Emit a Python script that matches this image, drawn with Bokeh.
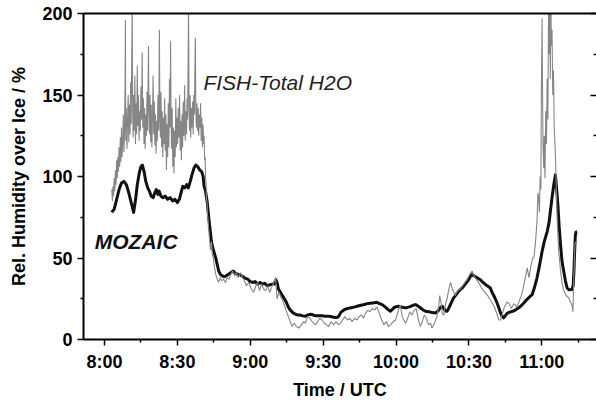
from bokeh.plotting import figure
from bokeh.models import Range1d, LinearAxis, FixedTicker, Label
from bokeh.embed import file_html
from bokeh.resources import INLINE

# ---- data (minutes after 08:00 UTC, relative humidity over ice in %) ----
tick_minutes = [0, 30, 60, 90, 120, 150, 180]
tick_labels = ["8:00", "8:30", "9:00", "9:30", "10:00", "10:30", "11:00"]
minor_minutes = [15, 45, 75, 105, 135, 165, 195]
y_ticks = [0, 50, 100, 150, 200]
y_minor = [25, 75, 125, 175]

fish_t = [3.0, 3.25, 3.5, 3.75, 4.0, 4.25, 4.5, 4.75, 5.0, 5.25, 5.5, 5.75, 6.0, 6.25, 6.5,
          6.75, 7.0, 7.25, 7.5, 7.75, 8.0, 8.25, 8.5, 8.6, 8.75, 9.0, 9.25, 9.5, 9.75, 10.0,
          10.25, 10.5, 10.75, 11.0, 11.2, 11.4, 11.6, 11.8, 12.0, 12.25, 12.5, 12.75, 13.0,
          13.25, 13.5, 13.75, 14.0, 14.25, 14.5, 14.75, 15.0, 15.25, 15.5, 15.75, 16.0, 16.25,
          16.5, 16.75, 17.0, 17.25, 17.5, 17.75, 18.1, 18.3, 18.5, 18.75, 19.0, 19.25, 19.5,
          19.75, 20.0, 20.25, 20.5, 20.75, 21.0, 21.25, 21.5, 21.75, 22.0, 22.3, 22.6, 22.8,
          23.0, 23.25, 23.5, 23.75, 24.0, 24.25, 24.5, 24.75, 25.0, 25.25, 25.5, 25.75, 26.0,
          26.25, 26.5, 26.75, 27.0, 27.2, 27.4, 27.6, 27.85, 28.1, 28.35, 28.6, 28.85, 29.1,
          29.35, 29.6, 29.85, 30.1, 30.35, 30.6, 30.9, 31.15, 31.4, 31.65, 31.9, 32.15, 32.4,
          32.7, 33.0, 33.25, 33.5, 33.75, 34.0, 34.2, 34.4, 34.6, 34.8, 35.0, 35.25, 35.5,
          35.75, 36.0, 36.25, 36.5, 36.75, 37.0, 37.2, 37.4, 37.6, 37.8, 38.05, 38.3, 38.55,
          38.8, 39.05, 39.3, 39.55, 39.8, 40.05, 40.3, 40.55, 40.8, 41.0, 41.2, 41.4, 41.6,
          41.8, 42.0, 42.2, 42.4, 42.6, 42.8, 43.0, 43.3, 43.6,
          44.0, 44.4, 44.8, 45.2, 45.8, 46.4, 47.0, 47.6, 48.2, 49.0, 49.8, 50.5,
          51.2, 52.0, 52.8, 53.5, 54.2, 55.0, 56.0, 56.8, 57.6, 58.4, 59.4, 60.4, 61.4, 62.3,
          63.0, 63.8, 64.6, 65.5, 66.3, 67.2, 68.0, 68.8, 69.6, 70.4, 71.0, 71.8, 72.6, 73.4,
          74.2, 75.2, 76.2, 77.2, 78.0, 79.0, 80.0, 81.0, 82.0, 82.7, 83.6, 84.5, 85.5, 86.8,
          87.8, 88.6, 89.6, 90.5, 91.4, 92.3, 93.3, 94.3, 95.3, 96.3, 97.1, 98.0, 99.0, 100.0,
          101.0, 101.9, 103.0, 104.0, 104.7, 105.8, 106.6, 107.4, 108.4, 109.3, 110.2, 111.2,
          112.0, 112.9, 113.8, 115.0, 116.0, 116.8, 117.7, 118.8, 119.8, 120.6, 121.4, 121.8,
          122.5, 123.2, 123.9, 124.8, 125.6, 126.6, 127.4, 128.3, 129.2, 130.0, 130.8, 131.6,
          132.5, 133.4, 134.2, 134.8, 135.8, 136.8, 137.5, 138.0, 138.6, 139.0, 139.6, 140.4,
          141.0, 141.6, 142.4, 143.2, 144.4, 145.3, 146.5, 147.4, 148.3, 149.3, 150.3, 151.3,
          152.1, 153.0, 154.0, 155.0, 156.0, 157.0, 157.5, 158.5, 159.3, 160.2, 161.2, 162.3,
          163.0, 163.8, 164.6, 165.7, 166.6, 167.5, 168.4, 169.2, 169.8, 170.8, 171.8, 172.8,
          173.5, 174.0, 174.7, 175.5, 176.2, 176.7, 177.3, 178.0, 178.4, 178.7, 179.0, 179.3,
          179.6, 179.8, 180.1, 180.3, 180.5, 180.8, 181.0, 181.3, 181.6, 181.9, 182.2, 182.5,
          182.7, 182.9, 183.1, 183.3, 183.5, 183.7, 183.9, 184.2, 184.5, 184.8, 185.1, 185.4,
          185.6, 185.9, 186.3, 186.9, 187.7, 188.3, 189.0, 190.0, 191.1, 191.8, 192.4, 192.8,
          193.2, 193.6, 194.0]
fish_rhi = [92, 85, 94, 88, 99, 91, 104, 95, 110, 99, 112, 103, 118, 106, 124,
            109, 130, 112, 121, 138, 115, 128, 160, 196, 122, 142, 117, 135, 150, 121,
            144, 126, 158, 132, 170, 205, 140, 124, 150, 128, 162, 120, 145,
            126, 168, 131, 150, 122, 140, 128, 155, 135, 176, 130, 148, 120,
            142, 117, 138, 125, 152, 128, 180, 140, 126, 150, 121, 144, 118,
            136, 162, 126, 146, 119, 138, 114, 134, 122, 150, 128, 190, 135,
            124, 152, 118, 140, 112, 136, 120, 148, 116, 138, 104, 132, 112,
            145, 118, 160, 130, 183, 135, 117, 142, 106, 130, 102, 128, 112,
            148, 118, 136, 120, 142, 124, 150, 116, 134, 110, 138, 118, 146,
            125, 156, 122, 140, 126, 148, 135, 168, 205, 140, 128, 150, 124,
            142, 130, 146, 126, 150, 138, 165, 185, 140, 130, 145, 128, 142,
            125, 138, 130, 145, 122, 136, 118, 132, 120, 125, 110, 112, 100,
            96, 86, 84, 76, 74, 68, 66, 60, 55,
            60, 52, 50, 45, 40, 37, 35, 38, 36, 37, 35, 38,
            37, 40, 42, 39, 41, 38, 41, 38, 36, 33, 35, 31, 29, 33,
            35, 30, 34, 31, 30, 33, 29, 32, 35, 38, 25, 29, 26, 24,
            20, 16, 12, 8, 10, 8, 7, 9, 11, 10, 14, 13, 11, 9,
            11, 13, 12, 10, 9, 8, 11, 9, 11, 9, 10, 12, 14, 12,
            13, 11, 13, 12, 14, 15, 13, 16, 18, 17, 19, 18,
            20, 17, 13, 9, 11, 8, 9, 11, 12, 16, 20, 21,
            14, 12, 10, 13, 17, 15, 18, 19, 12, 8, 11, 15,
            13, 9, 10, 7, 10, 14, 20, 27, 22, 16, 15, 22,
            25, 30, 35, 31, 27, 30, 31, 33, 35, 37, 40, 42,
            39, 37, 35, 32, 30, 28, 27.5, 25, 23, 21, 17, 12,
            12, 16, 20, 23, 22, 19, 22, 21, 20, 24, 28, 35,
            40, 44, 38, 45, 50, 50, 58, 72, 90, 87, 78, 100,
            92, 150, 197, 150, 118, 105, 125, 99, 140, 120, 160, 135,
            190, 215, 175, 205, 160, 215, 180, 190, 150, 165, 130, 120,
            113, 95, 74, 55, 42, 35, 30, 27, 25.5, 23, 21, 17,
            40, 58, 60]

mozaic_t = [3.0, 4.0, 5.0, 6.0, 7.0, 8.0, 9.0, 10.0, 11.0, 12.0, 12.8, 13.5, 14.3, 15.0,
            15.6, 16.3, 17.0, 17.8, 18.5, 19.2, 20.0, 20.7, 21.3, 22.0, 22.5, 23.2, 24.0,
            25.0, 26.0, 27.0, 28.0, 29.0, 30.0, 30.8, 31.5, 32.2, 33.0, 33.8, 34.5, 35.3,
            36.0, 36.8, 37.6, 38.4, 39.2, 40.0, 40.6, 41.0, 41.6, 42.3, 42.9, 43.5, 44.0,
            44.6, 45.2, 45.8, 46.4, 47.0, 47.7, 48.5, 49.3, 50.0, 51.0, 52.0, 53.0, 54.0,
            55.0, 56.0, 57.0, 58.0, 59.0, 60.0, 61.0, 62.0, 63.0, 64.0, 65.0, 66.0, 67.0,
            68.0, 69.0, 70.0, 70.6, 71.0, 71.6, 72.4, 73.2, 74.0, 74.8, 75.6, 76.5, 77.5,
            78.6, 79.6, 80.6, 81.6, 82.7, 83.6, 84.8, 86.0, 87.0, 88.2, 89.5, 90.8, 92.3,
            93.5, 94.6, 95.8, 96.5, 97.2, 98.0, 99.0, 100.0, 101.5, 103.0, 104.0, 105.5,
            107.0, 108.1, 109.5, 111.0, 112.0, 113.2, 114.3, 115.5, 116.6, 117.7, 118.5,
            119.5, 121.1, 122.5, 124.0, 125.5, 127.0, 128.0, 129.0, 130.0, 131.0, 132.1,
            133.5, 135.0, 136.2, 137.3, 138.2, 139.0, 139.6, 140.4, 141.0, 141.8, 142.7,
            143.7, 145.0, 146.0, 147.2, 148.5, 149.8, 150.5, 151.3, 152.2, 153.2, 154.7,
            155.8, 157.0, 158.0, 158.8, 159.5, 160.2, 161.0, 161.6, 162.4, 163.0, 163.6,
            164.3, 165.7, 166.8, 168.0, 169.0, 170.0, 171.0, 172.0, 172.6, 173.5, 174.5,
            176.0, 177.0, 178.0, 179.0, 180.1, 181.0, 182.2, 183.0, 183.5, 184.2, 184.9,
            185.6, 186.1, 186.6, 187.1, 187.7, 188.3, 189.0, 189.7, 190.4, 191.2, 192.4,
            192.9, 193.2, 193.5, 193.8, 194.1, 194.5]
mozaic_rhi = [78, 80, 86, 92, 96, 97, 95, 90, 84, 78, 86, 95, 102, 106,
              107, 103, 97, 93, 91, 88, 87, 90, 92, 89, 91, 88, 87,
              88, 86, 87, 85, 86, 84, 86, 90, 94, 93, 95, 93, 97,
              101, 105, 107, 106, 104, 103, 100, 94, 91, 84, 75, 67, 60,
              56, 53, 50, 46, 42, 40, 39, 38.5, 39, 40, 41, 42, 40.5,
              40, 39.5, 38.5, 37.5, 37, 35.5, 35, 35.5, 34, 35, 34, 34.5, 33,
              33.5, 34, 34, 36.5, 35, 31, 29, 27, 25, 23, 20, 18, 16.5,
              15.5, 15, 15, 14.5, 14.3, 15, 15.5, 15, 14.5, 14.5, 14.5, 14.3, 14.3,
              14, 13.5, 13.5, 14.5, 16.5, 17.5, 18.5, 19, 19.5, 20, 20.4, 21,
              21.5, 22, 22.3, 22.5, 22.8, 22, 21.4, 20, 18.5, 17.3, 18.5,
              20, 20.4, 19.8, 19.4, 20, 21, 21.4, 20.5, 19.5, 18.3, 17.3,
              17, 16.5, 16.3, 17.5, 19.5, 20.4, 19, 17.5, 17.3, 19.5, 22.5,
              25.5, 28, 30, 31.6, 34, 36.5, 38.5, 39.8, 39, 38, 36.7,
              35, 33.5, 32.5, 31.6, 29, 27, 24.5, 22.4, 19, 16.3, 14.3,
              13.3, 16, 16.8, 17.3, 18, 19, 20, 21.5, 22.4, 24, 25.5,
              27.5, 32, 37.7, 45, 54, 60, 66.2, 72, 78.5, 87, 94.8,
              101, 92, 82.6, 70, 58, 48, 41.8, 36, 31.6, 30.5, 30.6,
              33, 41.8, 54, 64, 66, 66]

FONT = "Liberation Sans"

p = figure(width=596, height=402, output_backend="svg", toolbar_location=None,
           x_range=Range1d(-8.64, 202.5), y_range=Range1d(0, 200),
           min_border_left=83, min_border_right=0, min_border_top=13, min_border_bottom=62,
           outline_line_color=None, background_fill_color="white", border_fill_color="white")
p.grid.visible = False

p.line(mozaic_t, mozaic_rhi, line_color="#111111", line_width=3, line_join="round")
p.line(fish_t, fish_rhi, line_color="#868686", line_width=1.1)

# bottom axis
xa = p.xaxis[0]
xa.ticker = FixedTicker(ticks=tick_minutes, minor_ticks=minor_minutes)
xa.major_label_overrides = {m: s for m, s in zip(tick_minutes, tick_labels)}
xa.axis_label = "Time / UTC"
# left axis
ya = p.yaxis[0]
ya.ticker = FixedTicker(ticks=y_ticks, minor_ticks=y_minor)
ya.axis_label = "Rel. Humidity over Ice / %"

for ax in (xa, ya):
    ax.axis_line_width = 2
    ax.axis_line_color = "black"
    ax.major_tick_line_width = 1.5
    ax.minor_tick_line_width = 1.5
    ax.major_tick_out = 6
    ax.major_tick_in = 0
    ax.minor_tick_out = 3
    ax.minor_tick_in = 0
    ax.major_label_text_font = FONT
    ax.major_label_text_font_style = "bold"
    ax.major_label_text_font_size = "18px"
    ax.major_label_text_color = "black"
    ax.axis_label_text_font = FONT
    ax.axis_label_text_font_style = "bold"
    ax.axis_label_text_font_size = "18px"
    ax.axis_label_text_color = "black"
xa.major_label_standoff = 6
xa.axis_label_standoff = 5
ya.major_label_standoff = 5
ya.axis_label_standoff = 10

# right axis: inward ticks only, no labels
ra = LinearAxis(ticker=FixedTicker(ticks=y_ticks, minor_ticks=y_minor),
                axis_line_color=None, major_tick_in=6, major_tick_out=0,
                minor_tick_in=3, minor_tick_out=0, major_tick_line_width=1.5,
                minor_tick_line_width=1.5, major_label_standoff=0,
                major_label_overrides={t: "" for t in y_ticks})
p.add_layout(ra, "right")

# top axis: line only
ta = LinearAxis(ticker=FixedTicker(ticks=[]), axis_line_width=2, axis_line_color="black",
                major_tick_in=0, major_tick_out=0, minor_tick_in=0, minor_tick_out=0,
                major_label_standoff=0)
p.add_layout(ta, "above")

p.add_layout(Label(x=40.7, y=157.4, text="FISH-Total H2O", text_font=FONT,
                   text_font_style="italic", text_font_size="21px", text_color="#1e1e1e",
                   text_baseline="alphabetic"))
p.add_layout(Label(x=-4.0, y=59.9, text="MOZAIC", text_font=FONT,
                   text_font_style="bold italic", text_font_size="21px", text_color="#111111",
                   text_baseline="alphabetic"))

open("out.html", "w").write(file_html(p, INLINE))
